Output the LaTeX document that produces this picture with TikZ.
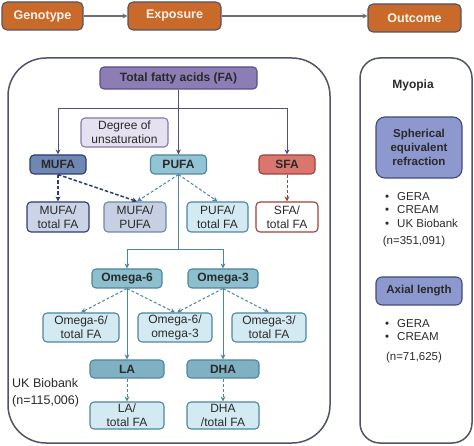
\documentclass[tikz,border=0pt]{standalone}
\usepackage{fontspec}
\setmainfont{Liberation Sans}
\usetikzlibrary{arrows.meta}
\definecolor{orangeF}{HTML}{C96A2B}
\definecolor{edgeG}{HTML}{4F5468}
\definecolor{arrG}{HTML}{6A6C7A}
\definecolor{tfaF}{HTML}{8C7DB5}
\definecolor{tfaD}{HTML}{5B4B8A}
\definecolor{degF}{HTML}{E6E1F0}
\definecolor{degD}{HTML}{8878A8}
\definecolor{mufaF}{HTML}{6F87B3}
\definecolor{mufaD}{HTML}{2E3A72}
\definecolor{mufatF}{HTML}{CBD3E6}
\definecolor{mpF}{HTML}{C6D0E2}
\definecolor{mpD}{HTML}{6C8AA8}
\definecolor{pufaF}{HTML}{93C4D4}
\definecolor{tealD}{HTML}{4E86A0}
\definecolor{lightT}{HTML}{D4EAF2}
\definecolor{sfaF}{HTML}{D9776E}
\definecolor{sfaD}{HTML}{A0403A}
\definecolor{omF}{HTML}{8DBFCF}
\definecolor{laF}{HTML}{7FB1C3}
\definecolor{serF}{HTML}{8D98CF}
\definecolor{serD}{HTML}{3F4A80}
\definecolor{txt}{HTML}{2A2A2A}
\tikzset{
  bx/.style={draw, rounded corners=4pt, inner sep=0pt, align=center, text=txt, line width=1.1pt,
             font=\fontsize{12}{14}\selectfont},
  bbx/.style={bx, font=\fontsize{12}{14}\selectfont\bfseries},
  topbox/.style={draw=edgeG, fill=orangeF, rounded corners=5pt, inner sep=0pt, line width=1.1pt,
             text=white!92!orange, font=\fontsize{12.5}{15}\selectfont\bfseries,
             minimum height=28pt},
  panel/.style={draw=edgeG, line width=1.5pt},
  tip/.style={-{Stealth[length=5pt,width=5pt]}},
  purpA/.style={tip, draw=tfaD, line width=1pt},
  tealA/.style={tip, draw=tealD, line width=1pt},
  tealDA/.style={tip, draw=tealD, line width=1pt, dash pattern=on 3pt off 2pt},
  navyDA/.style={tip, draw=mufaD, line width=1.5pt, dash pattern=on 3.5pt off 2pt},
  redDA/.style={tip, draw=sfaD, line width=1pt, dash pattern=on 3pt off 2pt},
  greyA/.style={tip, draw=arrG, line width=1.1pt},
  plain/.style={text=txt, inner sep=0pt, font=\fontsize{12}{14}\selectfont},
  rtxt/.style={text=txt, inner sep=0pt, font=\fontsize{11.5}{14}\selectfont},
}
\begin{document}
\begin{tikzpicture}[x=1pt,y=-1pt]
\useasboundingbox (0,0) rectangle (474,446);
% panels
\draw[panel, rounded corners=38pt] (8,58) rectangle (330,443);
\draw[panel, rounded corners=20pt] (360,58) rectangle (472,443);
% top row
\node[topbox, minimum width=81pt] (geno) at (42.5,16) {Genotype};
\node[topbox, minimum width=93pt] (expo) at (174.5,16) {Exposure};
\node[topbox, minimum width=93pt] (outc) at (414.5,18) {Outcome};
\draw[greyA] (geno.east) -- (expo.west);
\draw[greyA] (expo.east) -- (expo.east -| outc.west);
% left panel nodes
\node[bbx, draw=tfaD, fill=tfaF, minimum width=157pt, minimum height=22pt] (tfa) at (178.5,78) {Total fatty acids (FA)};
\node[bx, draw=degD, fill=degF, minimum width=87pt, minimum height=29pt] (deg) at (124.5,132.5) {Degree of\\unsaturation};
\node[bbx, draw=mufaD, fill=mufaF, minimum width=56pt, minimum height=19pt] (mufa) at (58,164.5) {MUFA};
\node[bbx, draw=tealD, fill=pufaF, minimum width=56pt, minimum height=19pt] (pufa) at (178.5,164.5) {PUFA};
\node[bbx, draw=sfaD, fill=sfaF, minimum width=56pt, minimum height=19pt] (sfa) at (287,164.5) {SFA};
\node[bx, draw=mufaD, fill=mufatF, minimum width=62pt, minimum height=30pt] (mufat) at (58,217) {MUFA/\\total FA};
\node[bx, draw=mpD, fill=mpF, minimum width=62pt, minimum height=30pt] (mufapufa) at (135,217) {MUFA/\\PUFA};
\node[bx, draw=tealD, fill=lightT, minimum width=61pt, minimum height=30pt] (pufat) at (217.5,217) {PUFA/\\total FA};
\node[bx, draw=sfaD, fill=white, minimum width=62pt, minimum height=30pt] (sfat) at (287,217) {SFA/\\total FA};
\node[bbx, draw=tealD, fill=omF, minimum width=70pt, minimum height=19pt] (om6) at (127,278.5) {Omega-6};
\node[bbx, draw=tealD, fill=omF, minimum width=70pt, minimum height=19pt] (om3) at (223,278.5) {Omega-3};
\node[bx, draw=tealD, fill=lightT, minimum width=76pt, minimum height=29pt] (om6t) at (81,327.5) {Omega-6/\\total FA};
\node[bx, draw=tealD, fill=lightT, minimum width=74pt, minimum height=29pt] (om63) at (175,327.5) {Omega-6/\\omega-3};
\node[bx, draw=tealD, fill=lightT, minimum width=74pt, minimum height=29pt] (om3t) at (269,327.5) {Omega-3/\\total FA};
\node[bbx, draw=tealD, fill=laF, minimum width=74pt, minimum height=18pt] (la) at (127,369) {LA};
\node[bbx, draw=tealD, fill=laF, minimum width=72pt, minimum height=18pt] (dha) at (223,369) {DHA};
\node[bx, draw=tealD, fill=lightT, minimum width=74pt, minimum height=27pt] (lat) at (127,415.5) {LA/\\total FA};
\node[bx, draw=tealD, fill=lightT, minimum width=72pt, minimum height=27pt] (dhat) at (223,415.5) {DHA\\/total FA};
\node[plain, align=left, anchor=west, font=\fontsize{12.5}{17}\selectfont] (ukb) at (12,392.5) {UK Biobank\\(n=115,006)};
% left connectors
\coordinate (hj) at (178.5,109);
\draw[purpA] (tfa.south) -- (pufa.north);
\draw[purpA] (hj) -| (mufa.north);
\draw[purpA] (hj) -| (sfa.north);
\draw[navyDA] (mufa.south) -- (mufat.north);
\draw[navyDA] (mufa.south) -- ([xshift=2pt]mufapufa.north);
\draw[tealDA] (pufa.south) -- ([xshift=2pt]mufapufa.north);
\draw[tealDA] (pufa.south) -- (pufat.north);
\draw[redDA] (sfa.south) -- (sfat.north);
\coordinate (pj) at (178.5,250);
\draw[tealD, line width=1pt] (pufa.south) -- (pj);
\draw[tealA] (pj) -| (om6.north);
\draw[tealA] (pj) -| (om3.north);
\draw[tealDA] (om6.south) -- (om6t.north);
\draw[tealDA] (om6.south) -- (om63.north);
\draw[tealDA] (om3.south) -- ([xshift=2pt]om63.north);
\draw[tealDA] (om3.south) -- (om3t.north);
\draw[tealA] (om6.south) -- (la.north);
\draw[tealA] (om3.south) -- (dha.north);
\draw[tealDA] (la.south) -- (lat.north);
\draw[tealDA] (dha.south) -- (dhat.north);
% right panel
\node[rtxt, font=\fontsize{12}{14}\selectfont\bfseries] (myo) at (413,85) {Myopia};
\node[bbx, draw=serD, fill=serF, rounded corners=9pt, minimum width=86pt, minimum height=61pt,
      font=\fontsize{11.5}{14}\selectfont\bfseries] (ser) at (419,147.5) {Spherical\\equivalent\\refraction};
\node[rtxt, anchor=west, align=left, font=\fontsize{11.5}{13.2}\selectfont] (serl) at (385,210)
  {\textbullet\hspace{8pt}GERA\\\textbullet\hspace{8pt}CREAM\\\textbullet\hspace{8pt}UK Biobank};
\node[rtxt] (sern) at (414,242) {(n=351,091)};
\node[bbx, draw=serD, fill=serF, rounded corners=6pt, minimum width=86pt, minimum height=28pt,
      font=\fontsize{11.5}{14}\selectfont\bfseries] (axl) at (419,291) {Axial length};
\node[rtxt, anchor=west, align=left, font=\fontsize{11.5}{13.8}\selectfont] (axll) at (385,330)
  {\textbullet\hspace{8pt}GERA\\\textbullet\hspace{8pt}CREAM};
\node[rtxt] (axln) at (414,358) {(n=71,625)};
\end{tikzpicture}
\end{document}
